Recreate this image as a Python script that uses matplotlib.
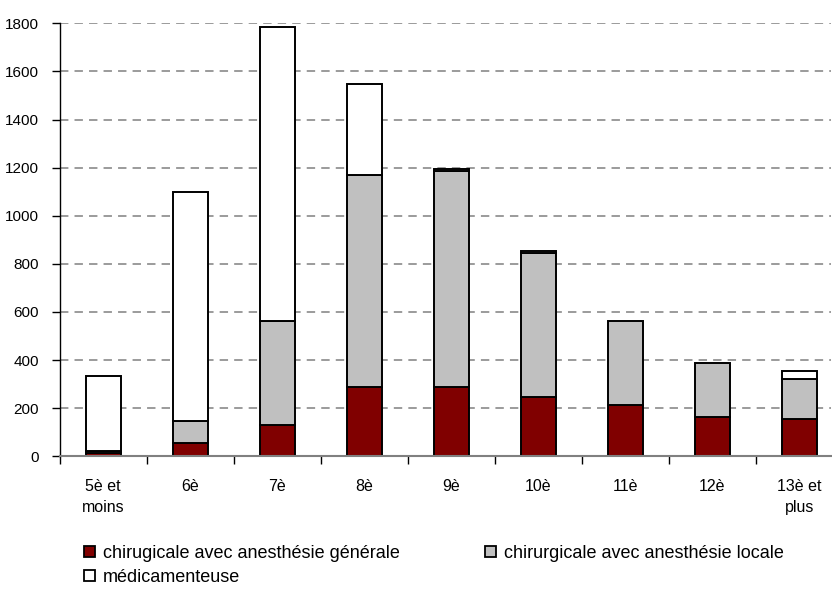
import numpy as np
import matplotlib
matplotlib.use("Agg")
import matplotlib.pyplot as plt
from matplotlib.patches import Patch

plt.rcParams['font.family'] = ['Liberation Sans', 'DejaVu Sans']

categories = ["5è et\nmoins", "6è", "7è", "8è", "9è", "10è", "11è", "12è", "13è et\nplus"]
generale = [12, 57, 130, 290, 290, 248, 213, 165, 155]
locale = [10, 91, 433, 880, 897, 599, 351, 222, 168]
medicamenteuse = [310, 952, 1223, 376, 8, 8, 0, 0, 33]
series_labels = ["chirugicale avec anesthésie générale",
                 "chirurgicale avec anesthésie locale",
                 "médicamenteuse"]
colors = ["#800000", "#C0C0C0", "#FFFFFF"]

fig = plt.figure(figsize=(8.32, 5.89), dpi=100)
ax = fig.add_axes([59.7 / 832, 1 - 456.3 / 589, (831 - 59.7) / 832, 433 / 589])

x = np.arange(len(categories))
bottom = np.zeros(len(categories))
for vals, col in zip([generale, locale, medicamenteuse], colors):
    vals = np.asarray(vals, dtype=float)
    edges = ["black" if v > 0 else "none" for v in vals]
    ax.bar(x, vals, width=0.4, bottom=bottom, color=col, edgecolor=edges,
           linewidth=1.4, zorder=3)
    bottom += vals

ax.set_xlim(-0.5, 8.5 - (843 - 831) / 87)
ax.set_ylim(0, 1800)
ax.set_yticks(np.arange(0, 1801, 200))
ax.yaxis.grid(True, linestyle=(0, (5.5, 4)), color="#808080", linewidth=1.1, zorder=0)

ax.set_xticks(x)
ax.set_xticklabels(categories, fontsize=11.5, linespacing=1.5)
ax.tick_params(axis="x", length=0, pad=16)
ax.set_xticks(np.arange(-0.5, 8.5, 1), minor=True)
ax.tick_params(axis="x", which="minor", length=6, width=1, color="black", direction="out")
ax.tick_params(axis="y", length=6, width=1, color="black", direction="out", pad=9, labelsize=11)

for s in ["top", "right"]:
    ax.spines[s].set_visible(False)
ax.spines["left"].set_color("black")
ax.spines["left"].set_linewidth(1)
ax.spines["bottom"].set_color("#808080")
ax.spines["bottom"].set_linewidth(1.5)
ax.spines["bottom"].set_zorder(4)

handles = [Patch(facecolor=c, edgecolor="black", linewidth=1.3) for c in colors]
leg_kw = dict(loc="upper left", frameon=False, fontsize=13, handlelength=0.6,
              handleheight=0.6, handletextpad=0.45, borderaxespad=0, borderpad=0)
fig.legend(handles[:2], series_labels[:2], ncol=2, columnspacing=4.7,
           bbox_to_anchor=(84 / 832, 1 - 545 / 589), **leg_kw)
fig.legend(handles[2:], series_labels[2:], ncol=1,
           bbox_to_anchor=(84 / 832, 1 - 569 / 589), **leg_kw)

fig.savefig("out.png", dpi=100)
